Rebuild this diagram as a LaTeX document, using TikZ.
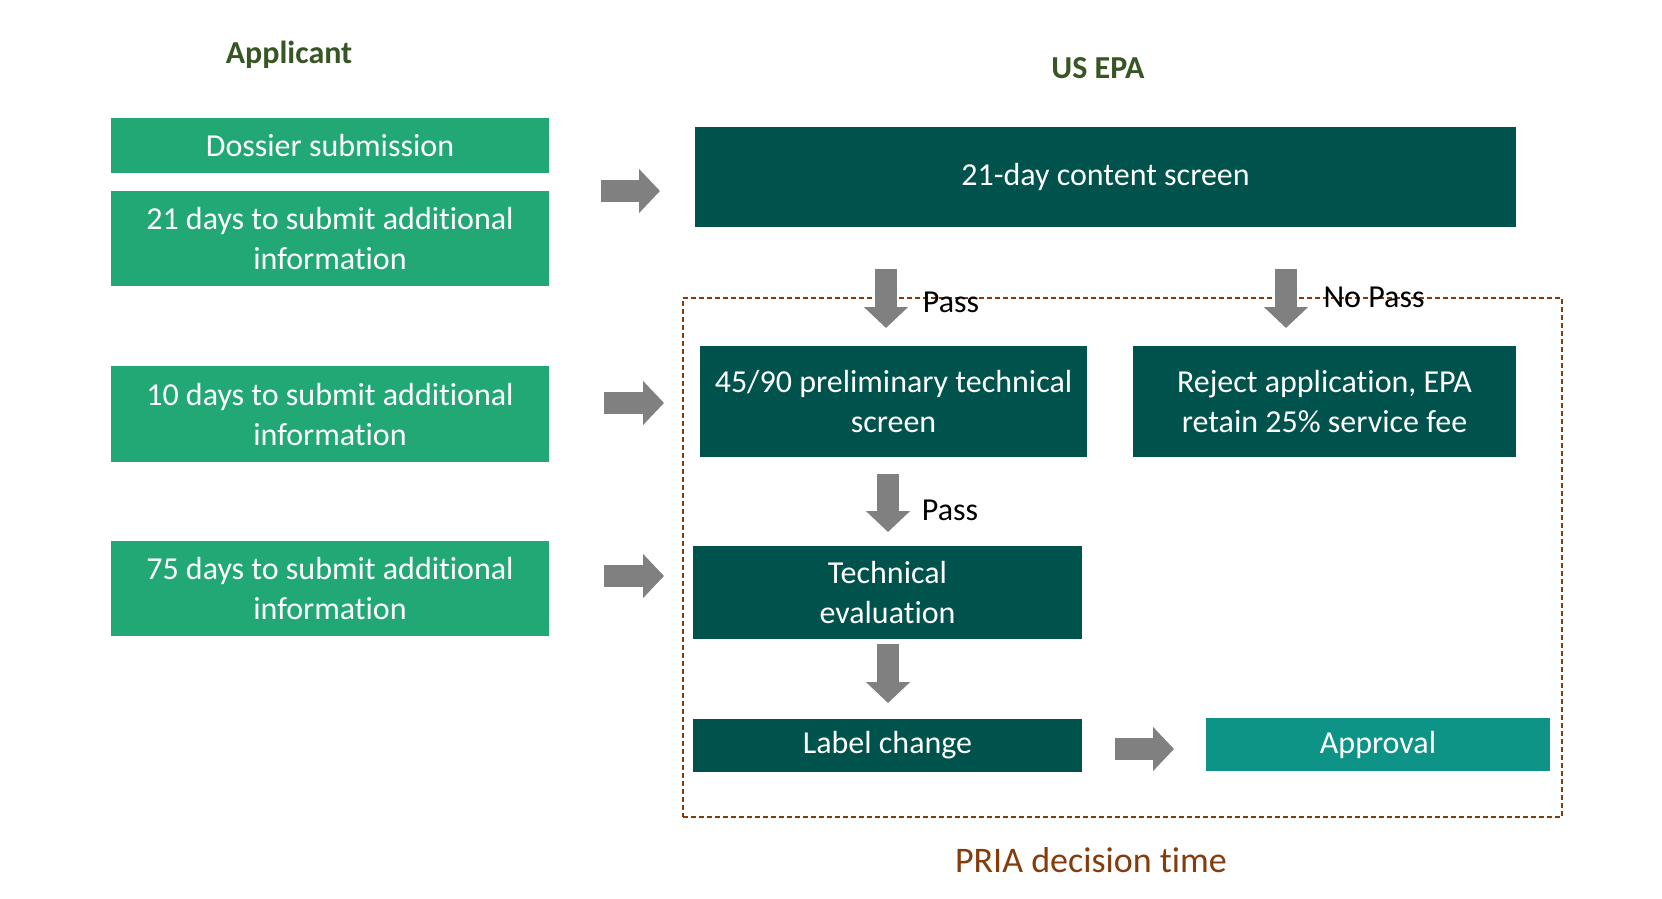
\documentclass[tikz,border=0pt]{standalone}
\usepackage{fontspec}
\setmainfont{Carlito}[Ligatures=NoCommon]
\usetikzlibrary{arrows.meta, positioning, calc}
\definecolor{appgreen}{RGB}{33,168,117}
\definecolor{epateal}{RGB}{0,82,77}
\definecolor{okteal}{RGB}{14,148,134}
\definecolor{arrowgray}{RGB}{128,128,128}
\definecolor{priabrown}{RGB}{132,60,12}
\definecolor{headgreen}{RGB}{55,86,35}

\begin{document}
\begin{tikzpicture}[x=1pt, y=-1pt,
    boxtext/.style={align=center, inner sep=0pt, text=white, font=\fontsize{32}{40}\selectfont},
    appbox/.style={boxtext, fill=appgreen, minimum width=438pt},
    epabox/.style={boxtext, fill=epateal},
    head/.style={text=headgreen, font=\fontsize{32}{40}\selectfont\bfseries},
    passlabel/.style={font=\fontsize{32}{40}\selectfont},
    blockarrow/.style={draw=arrowgray, line width=22pt, -{Triangle[width=43pt, length=21pt]}},
    priabox/.style={draw=priabrown, line width=1.5pt, dash pattern=on 5pt off 3pt}]
    \useasboundingbox (0,0) rectangle (1662,898);

    % headings
    \node[head] (applicant) at (289,55) {Applicant};
    \node[head] (usepa) at (1098,68) {US EPA};

    % PRIA frame
    \node[priabox, minimum width=879pt, minimum height=519pt] (pria) at (1122.5,557.5) {};
    \node[text=priabrown, font=\fontsize{36}{44}\selectfont] (priatext) at (1091,860) {PRIA decision time};

    % applicant side
    \node[appbox, minimum height=55pt] (dossier) at (330,145.5) {Dossier submission};
    \node[appbox, minimum height=95pt] (days21) at (330,238.5) {21 days to submit additional\\information};
    \node[appbox, minimum height=96pt] (days10) at (330,414) {10 days to submit additional\\information};
    \node[appbox, minimum height=95pt] (days75) at (330,588.5) {75 days to submit additional\\information};

    % EPA side
    \node[epabox, minimum width=821pt, minimum height=100pt] (screen) at (1105.5,177) {21-day content screen};
    \node[epabox, minimum width=387pt, minimum height=111pt] (prelim) at (893.5,401.5) {45/90 preliminary technical\\screen};
    \node[epabox, minimum width=383pt, minimum height=111pt] (reject) at (1324.5,401.5) {Reject application, EPA\\retain 25\% service fee};
    \node[epabox, minimum width=389pt, minimum height=93pt] (techeval) at (887.5,592.5) {Technical\\evaluation};
    \node[epabox, minimum width=389pt, minimum height=53pt] (labelchg) at (887.5,745.5) {Label change};
    \node[boxtext, fill=okteal, minimum width=344pt, minimum height=53pt] (approval) at (1378,744.5) {Approval};

    % arrows
    \coordinate (a1s) at (601,191);  \coordinate (a1e) at (660,191);
    \coordinate (a2s) at (604,403);  \coordinate (a2e) at (664,403);
    \coordinate (a3s) at (604,576);  \coordinate (a3e) at (664,576);
    \coordinate (a4s) at (1115,749); \coordinate (a4e) at (1174,749);
    \coordinate (d1s) at (886,269);  \coordinate (d1e) at (886,328);
    \coordinate (d2s) at (1286,269); \coordinate (d2e) at (1286,328);
    \coordinate (d3s) at (888,474);  \coordinate (d3e) at (888,532);
    \coordinate (d4s) at (888,644);  \coordinate (d4e) at (888,703);
    \foreach \s/\e in {a1s/a1e, a2s/a2e, a3s/a3e, a4s/a4e, d1s/d1e, d2s/d2e, d3s/d3e, d4s/d4e}
        \draw[blockarrow] (\s) -- (\e);

    \node[passlabel] (pass1) at (951,302) {Pass};
    \node[passlabel] (nopass) at (1374,297) {No Pass};
    \node[passlabel] (pass2) at (950,510) {Pass};
\end{tikzpicture}
\end{document}
